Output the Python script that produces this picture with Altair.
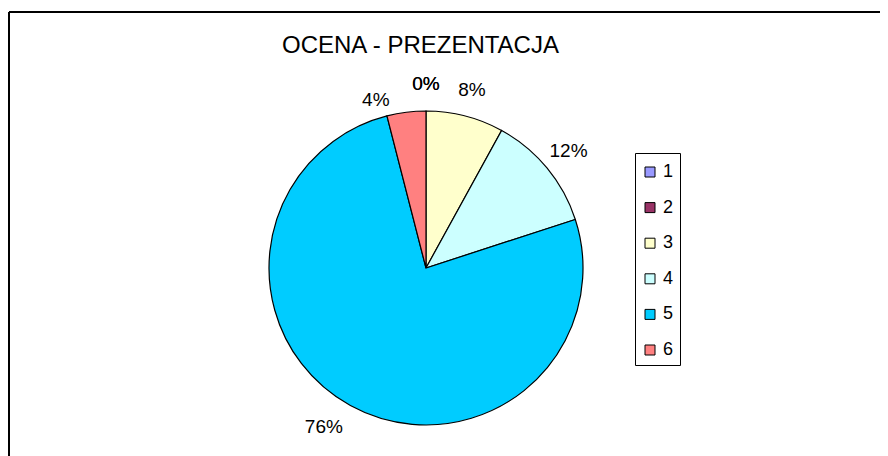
import altair as alt
import pandas as pd

categories = ["1", "2", "3", "4", "5", "6"]
shares = [0, 0, 8, 12, 76, 4]          # percent of answers
colors = ["#9999FF", "#993366", "#FFFFCC", "#CCFFFF", "#00CCFF", "#FF8080"]
title_text = "OCENA - PREZENTACJA"

df = pd.DataFrame({
    "kat": categories,
    "idx": list(range(len(categories))),
    "udzial": shares,
    "etykieta": [f"{v}%" for v in shares],
})

FONT = "Liberation Sans"
CX, CY = 417, 256   # pie centre inside the framed view
VW, VH = 871, 444   # framed view size
TAU = 6.283185307179586

base = alt.Chart(df).transform_stack(
    stack="udzial", groupby=[], as_=["t0", "t1"],
    sort=[alt.SortField("idx", order="ascending")],
)

theta = alt.Theta("t0:Q", scale=alt.Scale(domain=[0, 100], range=[0, TAU]))
theta2 = alt.Theta2("t1:Q")

pie = base.mark_arc(outerRadius=157, stroke="black", strokeWidth=1.2).encode(
    theta=theta,
    theta2=theta2,
    color=alt.Color(
        "kat:N",
        scale=alt.Scale(domain=categories, range=colors),
        legend=alt.Legend(
            title=" ", titleFontSize=1, titlePadding=3,
            orient="none", legendX=626, legendY=141,
            symbolType="square", symbolSize=100, symbolStrokeColor="black",
            symbolStrokeWidth=1, labelFontSize=18, labelFont=FONT,
            labelColor="black", rowPadding=17.6, labelOffset=4,
            padding=6, strokeColor="black", fillColor="white",
        ),
    ),
    x=alt.value(CX),
    y=alt.value(CY),
)

mid = base.transform_calculate(tm="(datum.t0 + datum.t1) / 2")
mid_theta = alt.Theta("tm:Q", scale=alt.Scale(domain=[0, 100], range=[0, TAU]))

def label_layer(filt, **kw):
    return mid.transform_filter(filt).mark_text(
        radius=185, fontSize=19, font=FONT, color="black", **kw
    ).encode(
        theta=mid_theta,
        text="etykieta:N",
        x=alt.value(CX),
        y=alt.value(CY),
    )

labels = label_layer("datum.kat != '5' && datum.kat != '6'", dy=1)
label5 = label_layer("datum.kat == '5'", dx=-13, dy=-3)
label6 = label_layer("datum.kat == '6'", dx=-27, dy=16)

chart = alt.layer(pie, labels, label5, label6).properties(
    width=VW,
    height=VH,
    background="white",
    autosize=alt.AutoSizeParams(type="none"),
    padding={"left": 1, "top": 4, "right": 0, "bottom": 0},
    title=alt.Title(title_text, fontSize=24, font=FONT, fontWeight="normal",
                    color="black", anchor="middle", dx=-24,
                    baseline="bottom", offset=-70),
).configure_view(
    stroke="black", strokeWidth=2, fill="white",
    # only the top and left edges of the frame (right/bottom lie off-page in the original)
    strokeDash=[VW, VW + VH, VH, 0],
)

chart.save("out.html", embed_options={"renderer": "svg", "actions": False})
